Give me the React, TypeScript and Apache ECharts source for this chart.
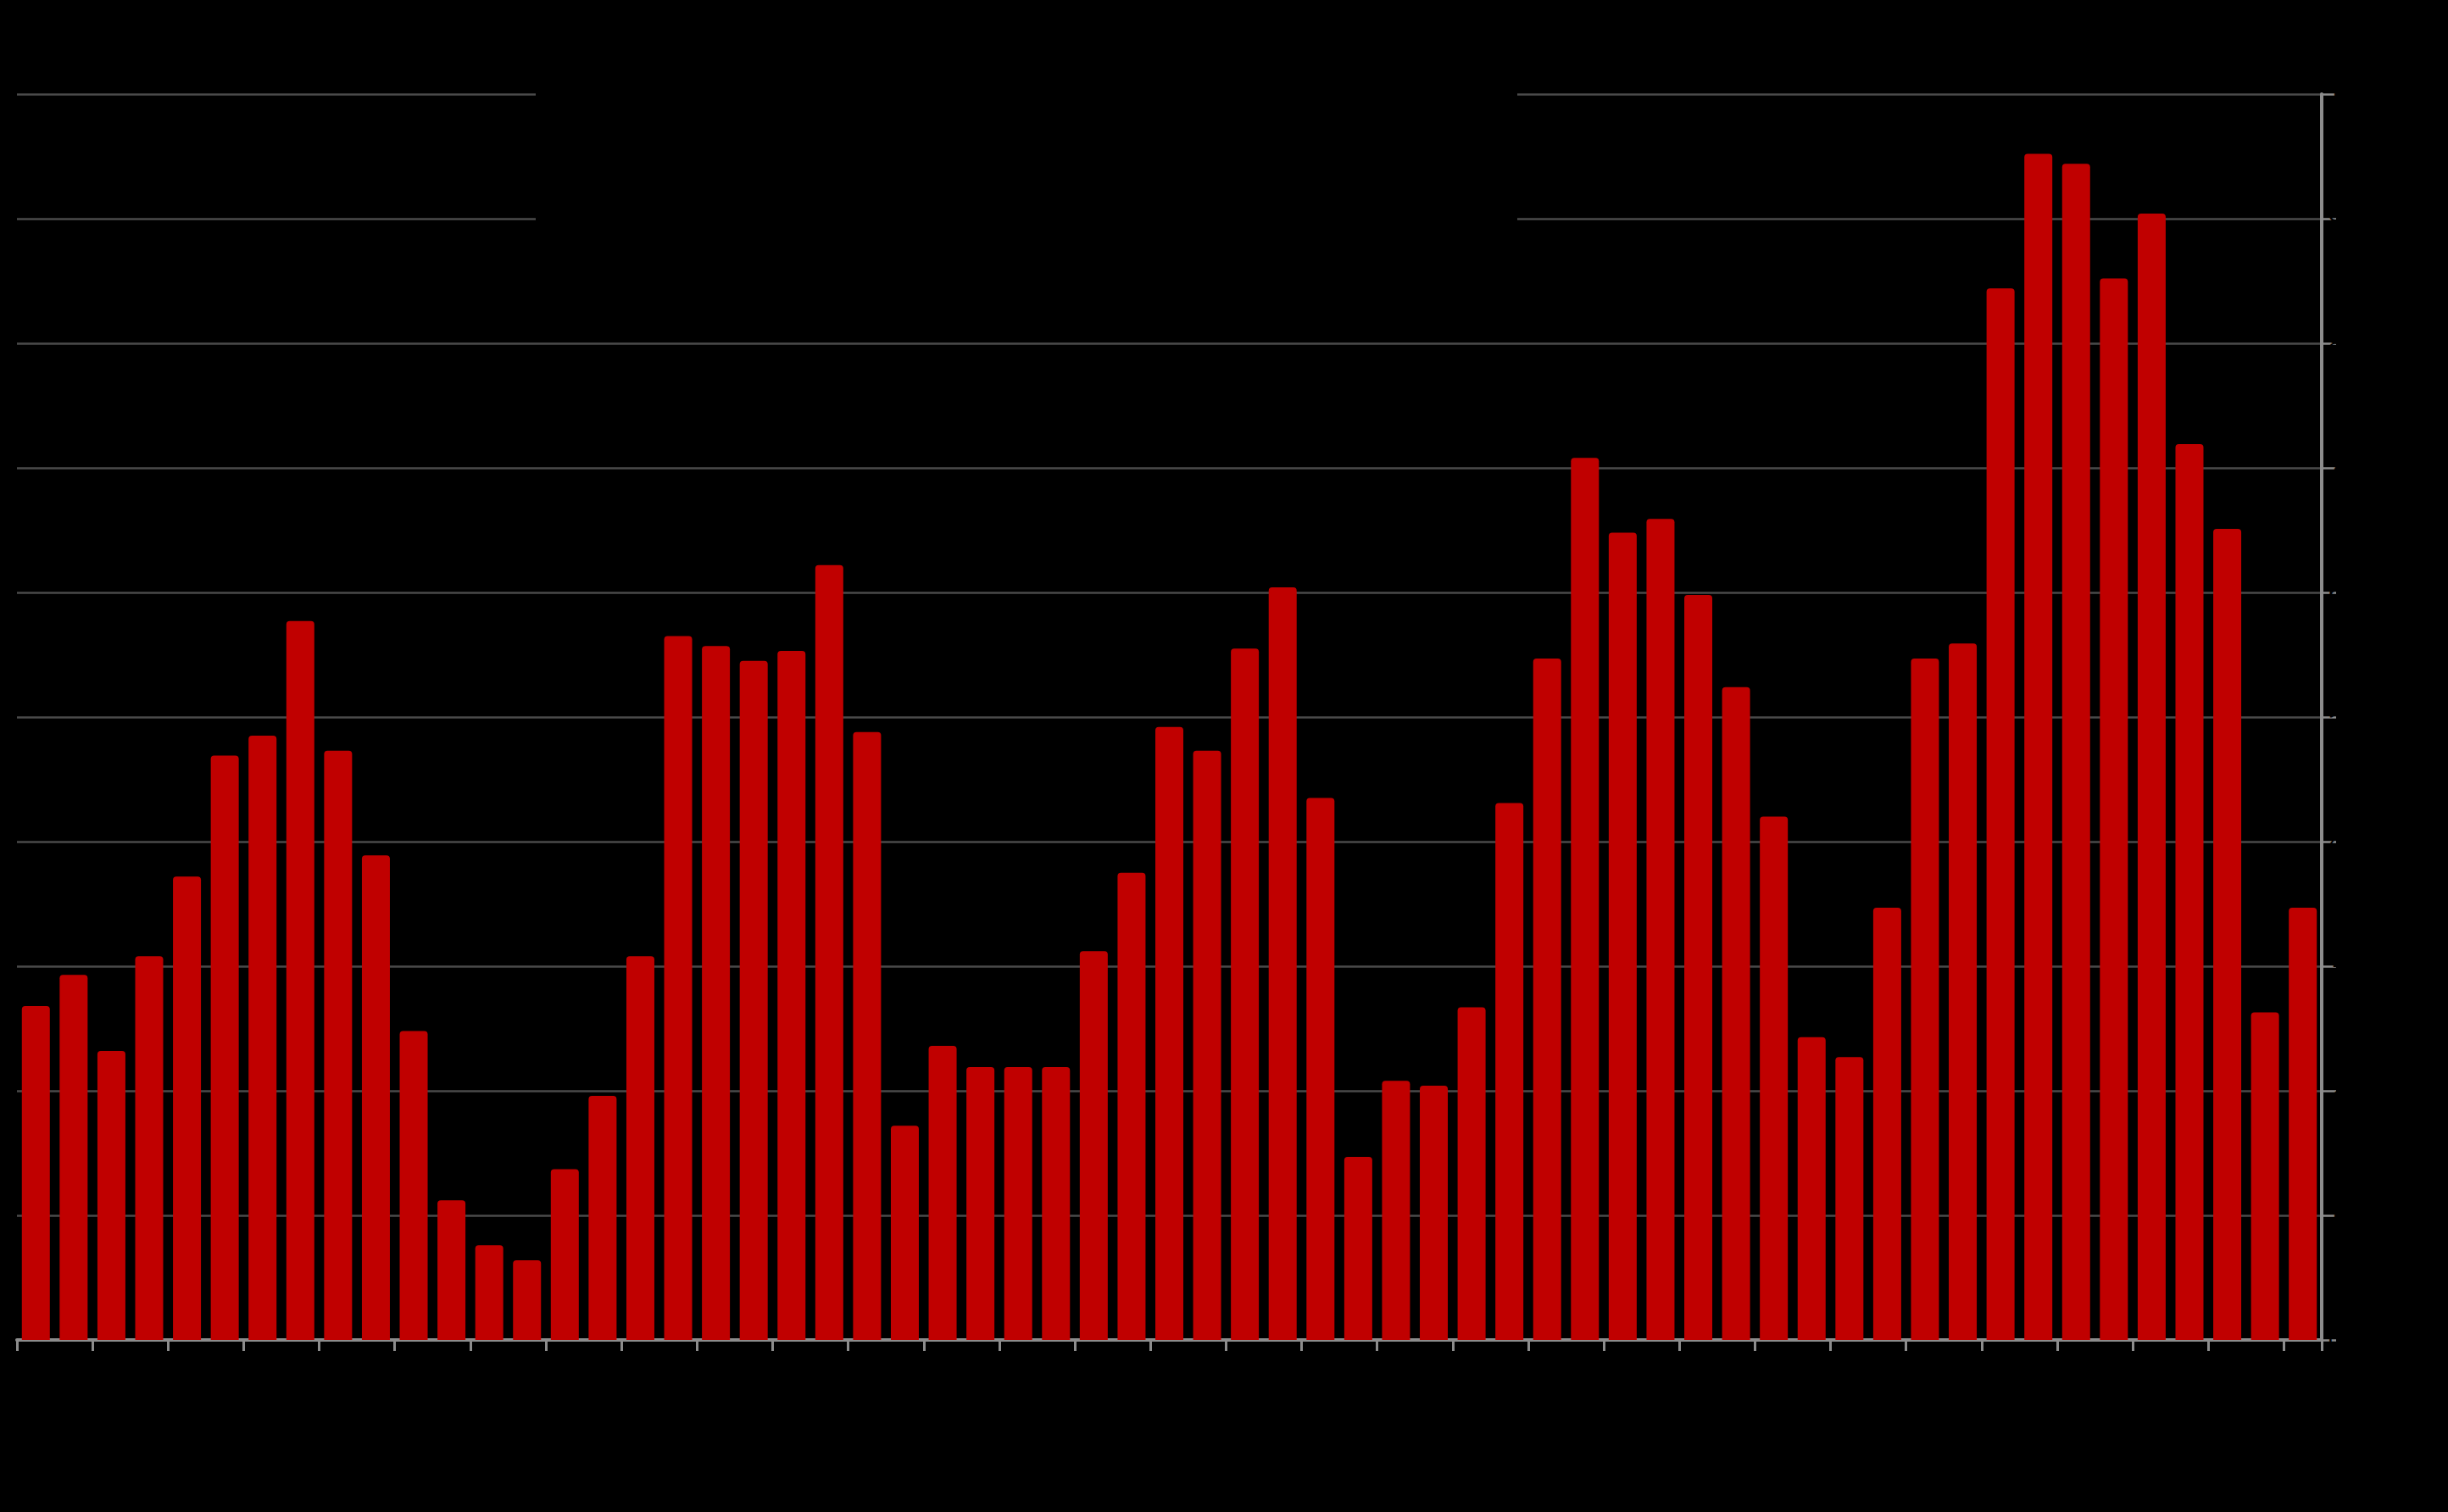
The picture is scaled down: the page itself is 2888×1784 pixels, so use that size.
import React, { useEffect, useRef } from "react";
import * as echarts from "echarts";

const categories: string[] = Array.from({ length: 61 }, (_, i) => String(i + 1));

const values: number[] = [
  26.8, 29.3, 23.2, 30.8, 37.2, 46.9, 48.5, 57.7, 47.3, 38.9,
  24.8, 11.2, 7.6, 6.4, 13.7, 19.6, 30.8, 56.5, 55.7, 54.5,
  55.3, 62.2, 48.8, 17.2, 23.6, 21.9, 21.9, 21.9, 31.2, 37.5,
  49.2, 47.3, 55.5, 60.4, 43.5, 14.7, 20.8, 20.4, 26.7, 43.1,
  54.7, 70.8, 64.8, 65.9, 59.8, 52.4, 42.0, 24.3, 22.7, 34.7,
  54.7, 55.9, 84.4, 95.2, 94.4, 85.2, 90.4, 71.9, 65.1, 26.3,
  34.7,
];

const yMin = 0;
const yMax = 100;
const yInterval = 10;

export default function App() {
  const ref = useRef<HTMLDivElement>(null);

  useEffect(() => {
    document.body.style.margin = "0";
    document.body.style.background = "#000";
    if (!ref.current) return;
    const chart = echarts.init(ref.current, null, { renderer: "svg" });
    chart.setOption({
      animation: false,
      backgroundColor: "#000000",
      grid: { left: 20, right: 149, top: 111, bottom: 203, containLabel: false },
      xAxis: {
        type: "category",
        data: categories,
        boundaryGap: true,
        axisLine: { show: true, lineStyle: { color: "#8c8c8c", width: 4 } },
        axisTick: { show: true, interval: 1, length: 13, lineStyle: { color: "#8c8c8c", width: 3 } },
        axisLabel: { show: false },
        splitLine: { show: false },
      },
      yAxis: {
        type: "value",
        position: "right",
        min: yMin,
        max: yMax,
        interval: yInterval,
        axisLine: { show: true, lineStyle: { color: "#8c8c8c", width: 4 } },
        axisTick: { show: true, length: 17, lineStyle: { color: "#8c8c8c", width: 2.5 } },
        axisLabel: { show: true, color: "#000000", fontSize: 28, fontFamily: "Liberation Sans" },
        splitLine: { show: true, lineStyle: { color: "#4a4a4a", width: 2.5 } },
      },
      graphic: [
        {
          type: "rect",
          left: 632,
          top: 60,
          shape: { width: 1158, height: 270 },
          style: { fill: "#000000" },
          z: 100,
        },
      ],
      series: [
        {
          type: "bar",
          data: values,
          barWidth: 33,
          itemStyle: { color: "#c00000", borderRadius: [4, 4, 0, 0] },
        },
      ],
    });
    return () => chart.dispose();
  }, []);

  return (
    <div
      ref={ref}
      style={{ position: "fixed", left: 0, top: 0, width: 2888, height: 1784, background: "#000" }}
    />
  );
}
